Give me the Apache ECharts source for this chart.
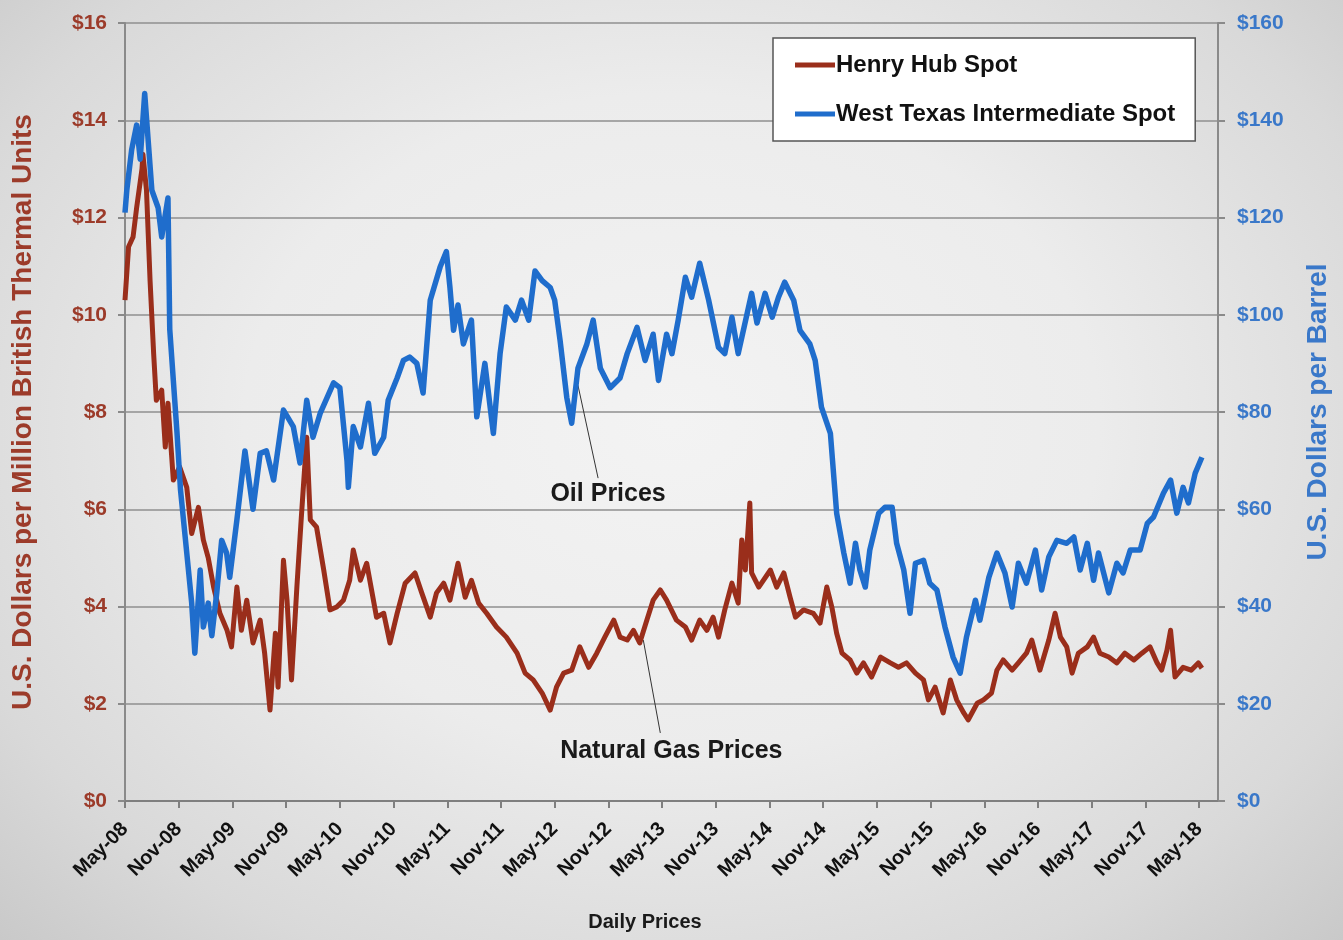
<!DOCTYPE html>
<html>
<head>
<meta charset="utf-8">
<title>Henry Hub vs WTI spot prices</title>
<script src="https://cdn.jsdelivr.net/npm/echarts@6/dist/echarts.min.js"></script>
<style>
  html, body { margin: 0; padding: 0; }
  body {
    width: 1343px; height: 940px; overflow: hidden;
    background: radial-gradient(ellipse at 50% 45%, #f3f3f3 0%, #ececec 45%, #d9d9d9 80%, #c9c9c9 100%);
  }
  #chart { width: 1343px; height: 940px; }
</style>
</head>
<body>
<div id="chart"></div>
<script>
// x values are months counted from May 2008
var xTickLabels = ['May-08', 'Nov-08', 'May-09', 'Nov-09', 'May-10', 'Nov-10', 'May-11', 'Nov-11',
  'May-12', 'Nov-12', 'May-13', 'Nov-13', 'May-14', 'Nov-14', 'May-15', 'Nov-15', 'May-16',
  'Nov-16', 'May-17', 'Nov-17', 'May-18'];

// Henry Hub spot, $/MMBtu
var hhMonths = [0, 0.4, 0.9, 1.3, 1.9, 2.0, 2.4, 2.8, 3.2, 3.5, 4.1, 4.5, 4.8, 5.4, 6.1, 6.9, 7.45, 8.2,
  8.75, 9.3, 9.9, 10.6, 11.4, 11.9, 12.5, 13.0, 13.6, 14.3, 15.1, 15.6, 16.2, 16.8, 17.1, 17.7, 18.1,
  18.6, 19.2, 19.7, 20.3, 20.7, 21.4, 22.2, 22.9, 23.65, 24.4, 25.1, 25.5, 26.3, 27.0, 28.1, 28.9,
  29.6, 30.4, 31.3, 32.4, 33.15, 34.1, 34.8, 35.6, 36.3, 37.2, 38.0, 38.7, 39.5, 40.4, 41.5, 42.6,
  43.8, 44.7, 45.6, 46.6, 47.5, 48.2, 49.0, 49.9, 50.8, 51.8, 52.7, 53.6, 54.6, 55.3, 56.1, 56.8,
  57.5, 58.3, 59.0, 59.8, 60.5, 61.6, 62.6, 63.3, 64.2, 65.0, 65.7, 66.3, 67.0, 67.8, 68.5, 68.9,
  69.3, 69.8, 70.0, 70.8, 72.1, 72.8, 73.6, 74.3, 74.9, 75.8, 76.9, 77.65, 78.4, 78.96, 79.5, 80.1,
  81.0, 81.75, 82.5, 83.4, 84.4, 85.5, 86.4, 87.3, 88.3, 89.2, 89.75, 90.5, 91.4, 92.2, 92.9, 93.7,
  94.2, 95.2, 95.9, 96.8, 97.4, 98.1, 99.1, 99.8, 100.7, 101.3, 102.2, 103.2, 103.9, 104.5, 105.2,
  105.8, 106.5, 107.5, 108.2, 108.9, 109.9, 110.8, 111.7, 112.7, 113.6, 114.5, 115.3, 115.8, 116.4,
  116.8, 117.3, 118.2, 119.1, 119.9, 120.3];
var hhPrices = [10.3, 11.4, 11.6, 12.2, 13.0, 13.3, 12.56, 10.7, 9.2, 8.24, 8.45, 7.28, 8.18, 6.6, 6.87,
  6.45, 5.5, 6.04, 5.37, 5.0, 4.4, 3.86, 3.51, 3.17, 4.4, 3.51, 4.13, 3.25, 3.72, 3.04, 1.87, 3.45,
  2.34, 4.95, 4.13, 2.49, 4.4, 5.84, 7.48, 5.78, 5.63, 4.75, 3.93, 3.99, 4.13, 4.54, 5.16, 4.54,
  4.89, 3.78, 3.86, 3.25, 3.86, 4.48, 4.69, 4.28, 3.78, 4.28, 4.48, 4.13, 4.89, 4.19, 4.54, 4.07,
  3.86, 3.58, 3.37, 3.04, 2.63, 2.49, 2.22, 1.87, 2.34, 2.63, 2.69, 3.17, 2.75, 3.04, 3.37, 3.72,
  3.37, 3.31, 3.51, 3.25, 3.72, 4.13, 4.34, 4.13, 3.72, 3.58, 3.31, 3.72, 3.51, 3.78, 3.37, 3.93,
  4.48, 4.07, 5.37, 4.75, 6.13, 4.69, 4.4, 4.75, 4.4, 4.69, 4.19, 3.78, 3.93, 3.86, 3.66, 4.4, 3.99,
  3.45, 3.04, 2.9, 2.63, 2.84, 2.55, 2.96, 2.84, 2.75, 2.84, 2.63, 2.49, 2.08, 2.34, 1.81, 2.49,
  2.08, 1.81, 1.67, 2.01, 2.08, 2.22, 2.69, 2.9, 2.69, 2.84, 3.04, 3.31, 2.69, 3.31, 3.86, 3.37,
  3.17, 2.63, 3.04, 3.17, 3.37, 3.04, 2.96, 2.84, 3.04, 2.9, 3.04, 3.17, 2.84, 2.69, 3.1, 3.51,
  2.55, 2.75, 2.69, 2.84, 2.73];

// West Texas Intermediate spot, $/barrel
var wtiMonths = [0, 0.2, 0.75, 1.3, 1.7, 2.2, 3.0, 3.7, 4.1, 4.8, 5.0, 5.8, 6.2, 6.9, 7.45, 7.8, 8.4,
  8.75, 9.3, 9.7, 10.25, 10.8, 11.35, 11.7, 12.5, 13.4, 14.3, 15.1, 15.8, 16.6, 17.7, 18.8, 19.55,
  20.3, 21.0, 21.8, 23.3, 24.0, 24.8, 24.95, 25.5, 26.3, 27.2, 27.9, 28.9, 29.4, 30.4, 31.1, 31.8,
  32.6, 33.3, 34.1, 35.2, 35.9, 36.3, 36.7, 37.2, 37.8, 38.7, 39.3, 40.2, 41.15, 41.9, 42.6, 43.6,
  44.3, 45.1, 45.8, 46.6, 47.5, 48.0, 48.6, 49.35, 49.9, 50.6, 51.6, 52.3, 53.1, 54.2, 55.3, 56.1,
  57.2, 58.1, 59.0, 59.6, 60.5, 61.1, 61.8, 62.6, 63.3, 64.2, 65.2, 66.3, 67.0, 67.8, 68.5, 70.0,
  70.6, 71.5, 72.3, 73.0, 73.7, 74.7, 75.4, 76.5, 77.1, 77.8, 78.8, 79.5, 80.3, 81.0, 81.6, 82.1,
  82.7, 83.2, 84.2, 84.9, 85.7, 86.2, 87.0, 87.7, 88.3, 89.2, 89.9, 90.7, 91.6, 92.5, 93.3, 94.0,
  95.0, 95.5, 96.5, 97.4, 98.3, 99.1, 99.8, 100.7, 101.7, 102.4, 103.2, 104.1, 105.2, 106.0, 106.7,
  107.5, 108.2, 108.75, 109.9, 110.8, 111.5, 112.3, 113.4, 114.2, 114.9, 116.0, 116.8, 117.5, 118.2,
  118.8, 119.55, 120.3];
var wtiPrices = [121, 125.6, 134, 139, 132, 145.5, 125.6, 122, 116, 124, 97, 76, 64, 51, 40.7, 30.4,
  47.5, 35.8, 40.7, 34, 42.8, 53.6, 51, 46, 57.8, 72, 60, 71.5, 72, 66, 80.4, 77, 69.5, 82.4, 74.8,
  79.7, 86, 85, 70, 64.5, 77, 72.8, 81.8, 71.5, 74.8, 82.4, 87, 90.6, 91.3, 90, 83.9, 103, 109.8,
  113, 105.6, 96.8, 102, 94, 98.9, 79, 90, 75.6, 92, 101.6, 98.9, 103, 98.9, 109, 107, 105.6, 103,
  94.8, 83, 77.7, 89, 94, 98.9, 89, 85, 87, 92, 97.4, 90.6, 96, 86.5, 96, 92, 98.9, 107.7, 103.6,
  110.6, 103, 93.3, 92, 99.5, 92, 104.4, 98.3, 104.4, 99.5, 103.6, 106.7, 103, 96.8, 94, 90.6, 81,
  75.6, 59.2, 51, 44.8, 53, 47.5, 44, 51.6, 59.2, 60.4, 60.4, 53, 47.5, 38.6, 48.9, 49.5, 44.8, 43.4,
  35.8, 29.6, 26.3, 33.7, 41.3, 37.2, 46, 51, 46.9, 39.9, 48.9, 44.8, 51.6, 43.4, 50.2, 53.6, 53,
  54.3, 47.5, 53, 45.4, 51, 42.8, 48.9, 46.9, 51.6, 51.6, 57.1, 58.4, 63.3, 66, 59.2, 64.5, 61.3,
  67.4, 70.7];

// callout anchors: [month, price] on the line, then where the leader ends
var oilCallout = [[50.6, 85.5], [52.85, 66.4]];
var gasCallout = [[57.9, 3.31], [59.8, 1.4]];

var sans = "'Liberation Sans', Arial, sans-serif";
var brown = '#9a2e1b';
var blue = '#1f6dcc';
var tickMonths = xTickLabels.map(function (_, i) { return i * 6; });

var chart = echarts.init(document.getElementById('chart'));
chart.setOption({
  animation: false,
  backgroundColor: 'transparent',
  grid: { left: 125, right: 125, top: 23, bottom: 139, containLabel: false },
  legend: {
    data: ['Henry Hub Spot', 'West Texas Intermediate Spot'],
    orient: 'vertical',
    left: 773, top: 38,
    padding: [15, 20, 15, 22],
    itemGap: 25,
    itemWidth: 40, itemHeight: 5,
    icon: 'rect',
    backgroundColor: '#ffffff',
    borderColor: '#555555',
    borderWidth: 1.5,
    textStyle: { fontFamily: sans, fontWeight: 'bold', fontSize: 24, color: '#111', padding: [0, 0, 0, -4] }
  },
  xAxis: {
    type: 'value', min: 0, max: 122.1,
    axisLine: { lineStyle: { color: '#7f7f7f', width: 2 } },
    axisTick: { show: true, length: 7, customValues: tickMonths, lineStyle: { color: '#7f7f7f', width: 2 } },
    axisLabel: {
      customValues: tickMonths, rotate: 45, margin: 25,
      formatter: function (v) { return xTickLabels[Math.round(v / 6)]; },
      fontFamily: sans, fontWeight: 'bold', fontSize: 20, color: '#111'
    },
    splitLine: { show: false }
  },
  yAxis: [{
    type: 'value', min: 0, max: 16, interval: 2, position: 'left',
    name: 'U.S. Dollars per Million British Thermal Units',
    nameLocation: 'middle', nameGap: 88, nameRotate: 90,
    nameTextStyle: { color: '#9c3b2a', fontWeight: 'bold', fontSize: 28, fontFamily: sans },
    axisLine: { show: true, lineStyle: { color: '#8a8a8a', width: 2 } },
    axisTick: { show: true, length: 7, lineStyle: { color: '#8a8a8a', width: 2 } },
    axisLabel: { formatter: '${value}', color: '#9c3b2a', fontWeight: 'bold', fontSize: 21, margin: 18, fontFamily: sans },
    splitLine: { lineStyle: { color: '#8f8f8f', width: 1.5 } }
  }, {
    type: 'value', min: 0, max: 160, interval: 20, position: 'right',
    name: 'U.S. Dollars per Barrel',
    nameLocation: 'middle', nameGap: 86, nameRotate: 90,
    nameTextStyle: { color: '#3a78c9', fontWeight: 'bold', fontSize: 28, fontFamily: sans },
    axisLine: { show: true, lineStyle: { color: '#8a8a8a', width: 2 } },
    axisTick: { show: true, length: 7, lineStyle: { color: '#8a8a8a', width: 2 } },
    axisLabel: { formatter: '${value}', color: '#3a78c9', fontWeight: 'bold', fontSize: 21, margin: 19, fontFamily: sans },
    splitLine: { show: false }
  }],
  series: [{
    name: 'Henry Hub Spot', type: 'line', yAxisIndex: 0,
    showSymbol: false, color: brown,
    lineStyle: { width: 5, color: brown, join: 'round' },
    data: hhMonths.map(function (m, i) { return [m, hhPrices[i]]; })
  }, {
    name: 'West Texas Intermediate Spot', type: 'line', yAxisIndex: 1,
    showSymbol: false, color: blue,
    lineStyle: { width: 5.5, color: blue, join: 'round' },
    data: wtiMonths.map(function (m, i) { return [m, wtiPrices[i]]; })
  }]
});

// callouts and the x axis caption
var o1 = chart.convertToPixel({ seriesIndex: 1 }, oilCallout[0]);
var o2 = chart.convertToPixel({ seriesIndex: 1 }, oilCallout[1]);
var g1 = chart.convertToPixel({ seriesIndex: 0 }, gasCallout[0]);
var g2 = chart.convertToPixel({ seriesIndex: 0 }, gasCallout[1]);
var noteStyle = { fontFamily: sans, fontWeight: 'bold', fontSize: 25, fill: '#1a1a1a', textAlign: 'center', textVerticalAlign: 'top' };
chart.setOption({
  graphic: [
    { type: 'line', shape: { x1: o1[0], y1: o1[1], x2: o2[0], y2: o2[1] }, style: { stroke: '#333', lineWidth: 1 } },
    { type: 'text', x: o2[0] + 10, y: o2[1] + 3, style: Object.assign({ text: 'Oil Prices' }, noteStyle) },
    { type: 'line', shape: { x1: g1[0], y1: g1[1], x2: g2[0], y2: g2[1] }, style: { stroke: '#333', lineWidth: 1 } },
    { type: 'text', x: g2[0] + 11, y: g2[1] + 6, style: Object.assign({ text: 'Natural Gas Prices' }, noteStyle) },
    { type: 'text', x: 645, y: 912, style: { text: 'Daily Prices', fontFamily: sans, fontWeight: 'bold', fontSize: 20, fill: '#1a1a1a', textAlign: 'center' } }
  ]
});
</script>
</body>
</html>
